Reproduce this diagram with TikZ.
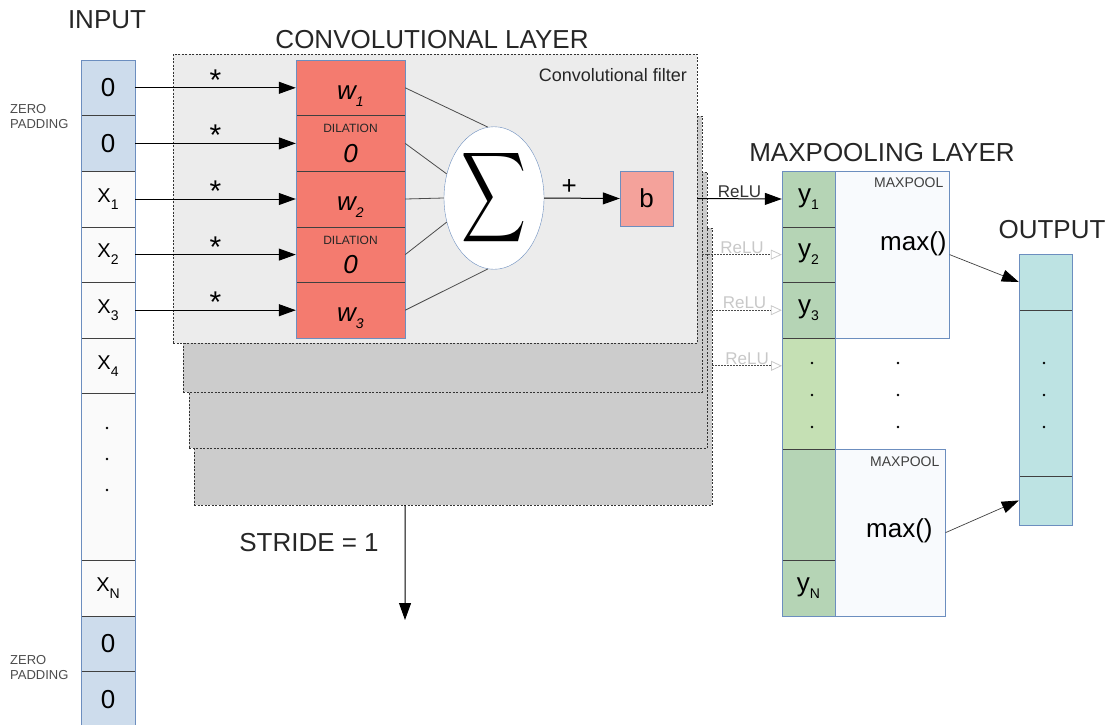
\documentclass[tikz,border=0pt]{standalone}
\usepackage{fontspec}
\setmainfont{Liberation Sans}
\usetikzlibrary{shapes.geometric,arrows.meta}

\definecolor{padfill}{HTML}{CDDCEC}
\definecolor{cellblue}{HTML}{6C8EBF}
\definecolor{xfill}{HTML}{FAFAFA}
\definecolor{wfill}{HTML}{F47B6F}
\definecolor{bfill}{HTML}{F4A29B}
\definecolor{frontgray}{HTML}{ECECEC}
\definecolor{backgray}{HTML}{CCCCCC}
\definecolor{ydark}{HTML}{B5D4B5}
\definecolor{ylight}{HTML}{C5E0B4}
\definecolor{poolfill}{HTML}{F8FAFD}
\definecolor{outfill}{HTML}{BDE3E3}
\definecolor{faint}{HTML}{C8C8C8}

\newcommand{\lowidx}[1]{\raisebox{-7pt}{\fontsize{14}{14}\selectfont #1}}

\begin{document}
\begin{tikzpicture}[x=1pt,y=-1pt]
	\tikzstyle{title}=[font=\fontsize{26}{30}\selectfont, text=black!85]
	\tikzstyle{incell}=[draw=black!75, fill=xfill, minimum width=54pt, minimum height=55.6pt, inner sep=0pt, font=\fontsize{20}{24}\selectfont]
	\tikzstyle{padcell}=[incell, fill=padfill, font=\fontsize{26}{30}\selectfont]
	\tikzstyle{wcell}=[draw=black!75, fill=wfill, minimum width=109pt, minimum height=55.6pt, inner sep=0pt, font=\fontsize{26}{30}\selectfont\itshape]
	\tikzstyle{ycell}=[draw=black!75, fill=ydark, minimum width=53pt, minimum height=55.6pt, inner sep=0pt, font=\fontsize{26}{30}\selectfont]
	\tikzstyle{outcell}=[draw=black!75, fill=outfill, minimum width=53pt, inner sep=0pt]
	\tikzstyle{poolbox}=[draw=cellblue, fill=poolfill, minimum width=114pt, minimum height=166.8pt, inner sep=0pt, anchor=north west]
	\tikzstyle{backfilt}=[draw=black!80, dash pattern=on 2pt off 1.5pt, fill=backgray, inner sep=0pt]
	\tikzstyle{smalltext}=[font=\fontsize{13}{15}\selectfont, text=black!70, inner sep=0pt]
	\tikzstyle{relu}=[font=\fontsize{17}{20}\selectfont, inner sep=1pt]
	\tikzstyle{mult}=[font=\fontsize{30}{32}\selectfont, inner sep=0pt, above=-3pt]
	\tikzstyle{arr}=[line width=1pt, -{Triangle[length=17pt,width=12pt]}]
	\tikzstyle{thinarr}=[line width=0.7pt, draw=black!75, -{Triangle[length=17pt,width=12pt,color=black]}]
	\tikzstyle{ghostarr}=[line width=0.8pt, draw=black!70, dash pattern=on 1.5pt off 1.5pt, -{Triangle[open,length=11pt,width=10pt,color=faint]}]
	\tikzstyle{wire}=[line width=0.8pt, draw=black!70]

	\useasboundingbox (0,0) rectangle (1114,724);

	% filters, back to front
	\node[backfilt, minimum width=518pt, minimum height=277pt] (f4) at (453,366.5) {};
	\node[backfilt, minimum width=518pt, minimum height=276pt] (f3) at (448,310) {};
	\node[backfilt, minimum width=519pt, minimum height=276pt] (f2) at (442.5,254) {};
	\node[backfilt, fill=frontgray, minimum width=524pt, minimum height=289pt] (f1) at (435,198.5) {};
	\node[font=\fontsize{18}{20}\selectfont, text=black!85, anchor=north east, inner sep=0pt] (filtlbl) at ([xshift=-10pt,yshift=-14pt]f1.north east) {Convolutional filter};

	% titles
	\node[title] (intitle) at (107,20) {INPUT};
	\node[title] (convtitle) at (432,40) {CONVOLUTIONAL LAYER};
	\node[title] (pooltitle) at (882,153) {MAXPOOLING LAYER};
	\node[title] (outtitle) at (1052,230) {OUTPUT};
	\node[title] (stride) at (309,543) {STRIDE = 1};

	% input column
	\node[padcell] (p1) at (108,87.8) {0};
	\node[padcell] (p2) at (108,143.4) {0};
	\node[incell] (x1) at (108,199) {X\lowidx{1}};
	\node[incell] (x2) at (108,254.6) {X\lowidx{2}};
	\node[incell] (x3) at (108,310.2) {X\lowidx{3}};
	\node[incell] (x4) at (108,365.8) {X\lowidx{4}};
	\node[incell, minimum height=166.8pt] (xdots) at (108,476.6) {};
	\node[incell] (xn) at (108,588.2) {X\lowidx{N}};
	\node[padcell] (p3) at (108,643.8) {0};
	\node[padcell] (p4) at (108,699.4) {0};
	\draw[cellblue] (p1.north west) rectangle (p4.south east);
	\fill (107,428) circle (1.4pt) (107,459) circle (1.4pt) (107,490) circle (1.4pt);
	\node[smalltext, align=left, anchor=west] (pad1) at (10,117) {ZERO\\PADDING};
	\node[smalltext, align=left, anchor=west] (pad2) at (10,668) {ZERO\\PADDING};

	% weights
	\node[wcell] (w1) at (350.5,87.8) {w\lowidx{1}\rule{0pt}{30pt}};
	\node[wcell] (d1) at (350.5,143.4) {\raisebox{0pt}[38pt][0pt]{0}};
	\node[wcell] (w2) at (350.5,199) {w\lowidx{2}\rule{0pt}{30pt}};
	\node[wcell] (d2) at (350.5,254.6) {\raisebox{0pt}[38pt][0pt]{0}};
	\node[wcell] (w3) at (350.5,310.2) {w\lowidx{3}\rule{0pt}{30pt}};
	\draw[cellblue] (w1.north west) rectangle (w3.south east);
	\node[smalltext, font=\fontsize{12}{14}\selectfont, text=black!85, below=9pt] (dil1) at (d1.north) {DILATION};
	\node[smalltext, font=\fontsize{12}{14}\selectfont, text=black!85, below=9pt] (dil2) at (d2.north) {DILATION};

	\draw[arr] (p1) -- node[mult] {*} (w1);
	\draw[arr] (p2) -- node[mult] {*} (d1);
	\draw[arr] (x1) -- node[mult] {*} (w2);
	\draw[arr] (x2) -- node[mult] {*} (d2);
	\draw[arr] (x3) -- node[mult] {*} (w3);

	% sum and bias
	\node[ellipse, draw=cellblue, fill=white, minimum width=100pt, minimum height=136pt, inner sep=0pt] (sum) at (494,198) {\scalebox{4.5}[6.3]{$\displaystyle\sum$}};
	\draw[wire] (w1.east) -- (sum.95);
	\draw[wire] (d1.east) -- (sum.153);
	\draw[wire] (w2.east) -- (sum.west);
	\draw[wire] (d2.east) -- (sum.207);
	\draw[wire] (w3.east) -- (sum.265);
	\node[draw=cellblue, fill=bfill, minimum width=53pt, minimum height=55pt, inner sep=0pt, font=\fontsize{26}{30}\selectfont] (b) at (646.5,198.5) {b};
	\draw[arr] (sum.east) -- node[pos=0.33, above=3pt, inner sep=0pt, font=\fontsize{26}{30}\selectfont] {+} (b.west);

	% stride
	\coordinate (strideend) at (405,620);
	\draw[arr] (w3.east |- f4.south) -- (strideend);

	% maxpooling column
	\node[ycell] (y1) at (808.5,199) {y\lowidx{1}};
	\node[ycell] (y2) at (808.5,254.6) {y\lowidx{2}};
	\node[ycell] (y3) at (808.5,310.2) {y\lowidx{3}};
	\node[ycell, fill=ylight, minimum height=111.2pt] (ydots) at (808.5,393.6) {};
	\node[ycell, minimum height=111.2pt] (yempty) at (808.5,504.8) {};
	\node[ycell] (yn) at (808.5,588.2) {y\lowidx{N}};
	\draw[cellblue] (y1.north west) rectangle (yn.south east);
	\coordinate (y4) at (782,365.8);
	\fill (812,363) circle (1.4pt) (812,395) circle (1.4pt) (812,427) circle (1.4pt);

	\draw[arr] (f1.east) -- node[relu, above, text=black!80] {ReLU} (y1.west);
	\draw[ghostarr] (f2.east |- y2) -- node[relu, above, text=faint] {ReLU} (y2.west);
	\draw[ghostarr] (f3.east |- y3) -- node[relu, above, text=faint] {ReLU} (y3.west);
	\draw[ghostarr] (f4.east |- y4) -- node[relu, above, text=faint] {ReLU} (y4);

	\node[poolbox] (pool1) at (y1.north east) {};
	\node[poolbox, minimum width=110pt] (pool2) at (yempty.north east) {};
	\node[smalltext, font=\fontsize{14}{16}\selectfont, text=black!75, anchor=north east] (mp1) at ([xshift=-6pt,yshift=-7pt]pool1.north east) {MAXPOOL};
	\node[smalltext, font=\fontsize{14}{16}\selectfont, text=black!75, anchor=north east] (mp2) at ([xshift=-6pt,yshift=-8pt]pool2.north east) {MAXPOOL};
	\node[font=\fontsize{26}{30}\selectfont] (max1) at ([xshift=21pt,yshift=11pt]pool1.center) {max()};
	\node[font=\fontsize{26}{30}\selectfont] (max2) at ([xshift=9pt,yshift=2pt]pool2.center) {max()};
	\fill (898,363) circle (1.4pt) (898,395) circle (1.4pt) (898,427) circle (1.4pt);

	% output column
	\node[outcell, minimum height=56pt] (o1) at (1045.5,282) {};
	\node[outcell, minimum height=166pt] (odots) at (1045.5,393) {};
	\node[outcell, minimum height=49pt] (on) at (1045.5,500.5) {};
	\draw[cellblue] (o1.north west) rectangle (on.south east);
	\fill (1044,363) circle (1.4pt) (1044,395) circle (1.4pt) (1044,427) circle (1.4pt);

	\draw[thinarr] (pool1.east) -- (o1.west);
	\draw[thinarr] (pool2.east) -- (on.west);
\end{tikzpicture}
\end{document}
